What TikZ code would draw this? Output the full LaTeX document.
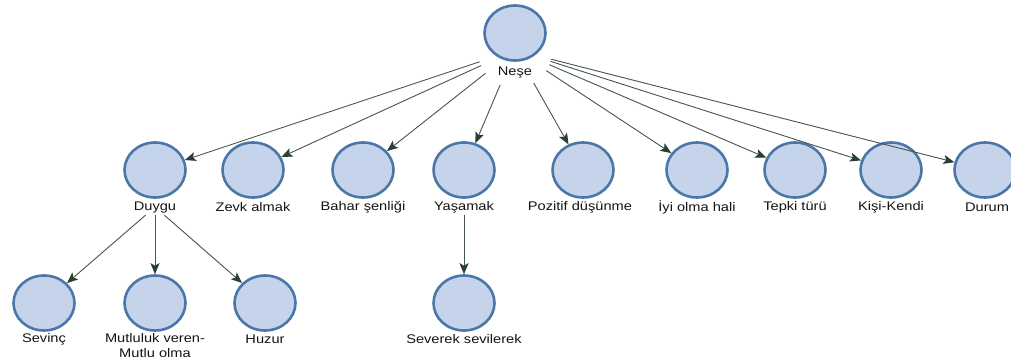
\documentclass[tikz,border=0pt]{standalone}
\usepackage{fontspec}
\setmainfont{Liberation Sans}[FakeStretch=1.17]
\usetikzlibrary{arrows.meta,shapes.geometric}
\definecolor{ballfill}{RGB}{197,212,234}
\definecolor{ballline}{RGB}{74,118,168}
\definecolor{linkcol}{RGB}{70,84,78}
\definecolor{tipcol}{RGB}{40,64,52}
\definecolor{txtcol}{RGB}{20,20,20}
\begin{document}
\begin{tikzpicture}[x=1pt,y=-1pt,
  ball/.style={ellipse,draw=ballline,fill=ballfill,line width=2.6pt,
    minimum width=61pt,minimum height=55pt,inner sep=0pt},
  tag/.style={inner sep=0pt,minimum height=16pt,text=txtcol,
    font=\fontsize{12.5}{15}\selectfont,align=center},
  hull/.style={ellipse,inner sep=0pt},
  link/.style={draw=linkcol,line width=0.9pt,
    -{Stealth[length=11pt,width=9pt,inset=2.5pt,color=tipcol]}}]
\useasboundingbox (0,0) rectangle (1011,356);

% top node
\node[ball] (nese) at (515,33) {};
\node[tag] (neseT) at (515,73) {Neşe};
\node[hull,minimum width=74pt,minimum height=76pt] (neseH) at (515,50) {};

% second row
\node[ball] (duygu) at (155,170) {};
\node[tag] (duyguT) at (155,207) {Duygu};
\node[ball] (zevk) at (253,170) {};
\node[tag] (zevkT) at (253,207) {Zevk almak};
\node[ball] (bahar) at (363,170) {};
\node[tag] (baharT) at (363,207) {Bahar şenliği};
\node[ball] (yasa) at (464,170) {};
\node[tag] (yasaT) at (464,207) {Yaşamak};
\node[ball] (pozi) at (583,170) {};
\node[tag] (poziT) at (580,207) {Pozitif düşünme};
\node[ball] (iyi) at (697,170) {};
\node[tag] (iyiT) at (697,207) {İyi olma hali};
\node[ball] (tepki) at (795,170) {};
\node[tag] (tepkiT) at (795,207) {Tepki türü};
\node[ball] (kisi) at (891,170) {};
\node[tag] (kisiT) at (891,207) {Kişi-Kendi};
\node[ball] (durum) at (985,170) {};
\node[tag] (durumT) at (987,207) {Durum};

% third row
\node[ball] (sevinc) at (44,303) {};
\node[tag] (sevincT) at (44,339) {Sevinç};
\node[ball] (mutlu) at (155,303) {};
\node[tag,anchor=north] (mutluT) at (155,333) {Mutluluk veren-\\Mutlu olma};
\node[ball] (huzur) at (265,303) {};
\node[tag] (huzurT) at (265,339) {Huzur};
\node[ball] (severek) at (464,303) {};
\node[tag] (severekT) at (464,339) {Severek sevilerek};

% connectors
\foreach \t in {duygu,zevk,bahar,yasa,pozi,iyi,tepki,kisi,durum}
  \draw[link] (neseH) -- (\t);
\foreach \t in {sevinc,mutlu,huzur}
  \draw[link] (duyguT) -- (\t);
\draw[link] (yasaT) -- (severek);
\end{tikzpicture}
\end{document}
